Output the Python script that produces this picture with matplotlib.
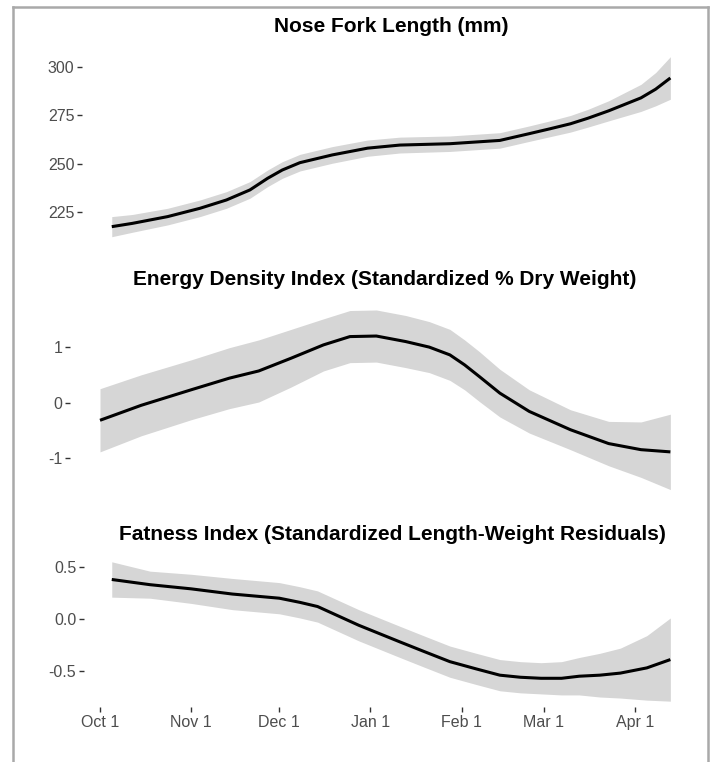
import matplotlib.pyplot as plt
from matplotlib.lines import Line2D

plt.rcParams['font.family'] = ['Liberation Sans', 'DejaVu Sans']

# x values are days after Oct 1
tick_days = [0, 31, 61, 92, 123, 151, 182]
tick_labels = ['Oct 1', 'Nov 1', 'Dec 1', 'Jan 1', 'Feb 1', 'Mar 1', 'Apr 1']

# Nose fork length (mm)
len_days = [4, 11, 23, 34, 43, 51, 57, 62, 68, 79, 91, 102, 119, 136, 146, 153, 160, 166, 173, 184, 189, 194]
len_fit = [217.4, 219.1, 222.6, 226.9, 231.2, 236.4, 242.4, 246.7, 250.5, 254.5, 258.0, 259.6, 260.3, 262.0,
           265.5, 268.0, 270.6, 273.5, 277.3, 284.0, 288.5, 294.3]
len_se = [5.2, 4.6, 4.3, 4.3, 4.3, 4.3, 4.3, 4.3, 4.3, 4.3, 4.2, 4.1, 4.0, 4.0, 4.0, 4.1, 4.3, 4.6, 5.2, 7.0, 8.6, 11.0]

# Energy density index
ed_days = [0, 14, 31, 44, 54, 65, 76, 85, 94, 104, 112, 119, 124, 129, 136, 146, 160, 173, 184, 194]
ed_fit = [-0.32, -0.05, 0.23, 0.44, 0.57, 0.80, 1.04, 1.19, 1.20, 1.10, 1.0, 0.86, 0.68, 0.47, 0.17, -0.16,
          -0.49, -0.74, -0.85, -0.89]
ed_se = [0.57, 0.55, 0.54, 0.55, 0.56, 0.52, 0.47, 0.47, 0.47, 0.47, 0.46, 0.46, 0.45, 0.45, 0.43, 0.39,
         0.36, 0.40, 0.50, 0.68]

# Fatness index
fat_days = [4, 17, 31, 45, 61, 68, 74, 81, 88, 95, 102, 110, 119, 128, 136, 143, 150, 157, 163, 170, 177, 186, 194]
fat_fit = [0.38, 0.33, 0.29, 0.24, 0.20, 0.16, 0.12, 0.03, -0.06, -0.14, -0.22, -0.31, -0.41, -0.48, -0.54,
           -0.56, -0.57, -0.57, -0.55, -0.54, -0.52, -0.47, -0.39]
fat_se = [0.17, 0.13, 0.14, 0.15, 0.15, 0.15, 0.15, 0.15, 0.15, 0.15, 0.15, 0.15, 0.15, 0.15, 0.15, 0.15,
          0.15, 0.16, 0.18, 0.21, 0.24, 0.31, 0.40]

W, H = 713, 762
fig = plt.figure(figsize=(W / 100, H / 100), dpi=100)

# grey frame round the figure
frame = dict(color='#a9a9a9', lw=1.8, transform=fig.transFigure)
fig.add_artist(Line2D([12.5 / W, 12.5 / W], [0, 1 - 7 / H], **frame))
fig.add_artist(Line2D([708 / W, 708 / W], [0, 1 - 7 / H], **frame))
fig.add_artist(Line2D([12.5 / W, 708 / W], [1 - 7 / H, 1 - 7 / H], **frame))

def px_day(px):
    return (px - 100) / 2.94

panels = [
    dict(l=82, t=48, b=246, ylim=(207.4, 309.8), yt=[225, 250, 275, 300],
         ylab=['225', '250', '275', '300'], title='Nose Fork Length (mm)', ty=27,
         x=len_days, y=len_fit, se=len_se),
    dict(l=70, t=300, b=499, ylim=(-1.74, 1.85), yt=[-1, 0, 1],
         ylab=['-1', '0', '1'], title='Energy Density Index (Standardized % Dry Weight)', ty=280,
         x=ed_days, y=ed_fit, se=ed_se),
    dict(l=84, t=554, b=707, ylim=(-0.846, 0.625), yt=[-0.5, 0.0, 0.5],
         ylab=['-0.5', '0.0', '0.5'], title='Fatness Index (Standardized Length-Weight Residuals)', ty=534,
         x=fat_days, y=fat_fit, se=fat_se),
]

r = 700
for i, p in enumerate(panels):
    ax = fig.add_axes([p['l'] / W, 1 - p['b'] / H, (r - p['l']) / W, (p['b'] - p['t']) / H])
    lo = [a - b for a, b in zip(p['y'], p['se'])]
    hi = [a + b for a, b in zip(p['y'], p['se'])]
    ax.fill_between(p['x'], lo, hi, color='#d6d6d6', lw=0)
    ax.plot(p['x'], p['y'], color='black', lw=2.2, solid_capstyle='butt', solid_joinstyle='round')
    ax.set_xlim(px_day(p['l']), px_day(r))
    ax.set_ylim(*p['ylim'])
    ax.set_yticks(p['yt'])
    ax.set_yticklabels(p['ylab'])
    for s in ax.spines.values():
        s.set_visible(False)
    ax.tick_params(axis='y', length=3.5, width=1, color='#333333', labelcolor='#4d4d4d',
                   labelsize=11.5, pad=2)
    if i == 2:
        ax.set_xticks(tick_days)
        ax.set_xticklabels(tick_labels)
        ax.tick_params(axis='x', length=3.5, width=1, color='#333333', labelcolor='#4d4d4d',
                       labelsize=11.5, pad=2)
    else:
        ax.set_xticks([])
    fig.text((p['l'] + r) / 2 / W, 1 - p['ty'] / H, p['title'], ha='center', va='center',
             fontsize=15, fontweight='bold', color='black')

fig.savefig('out.png', dpi=100)
